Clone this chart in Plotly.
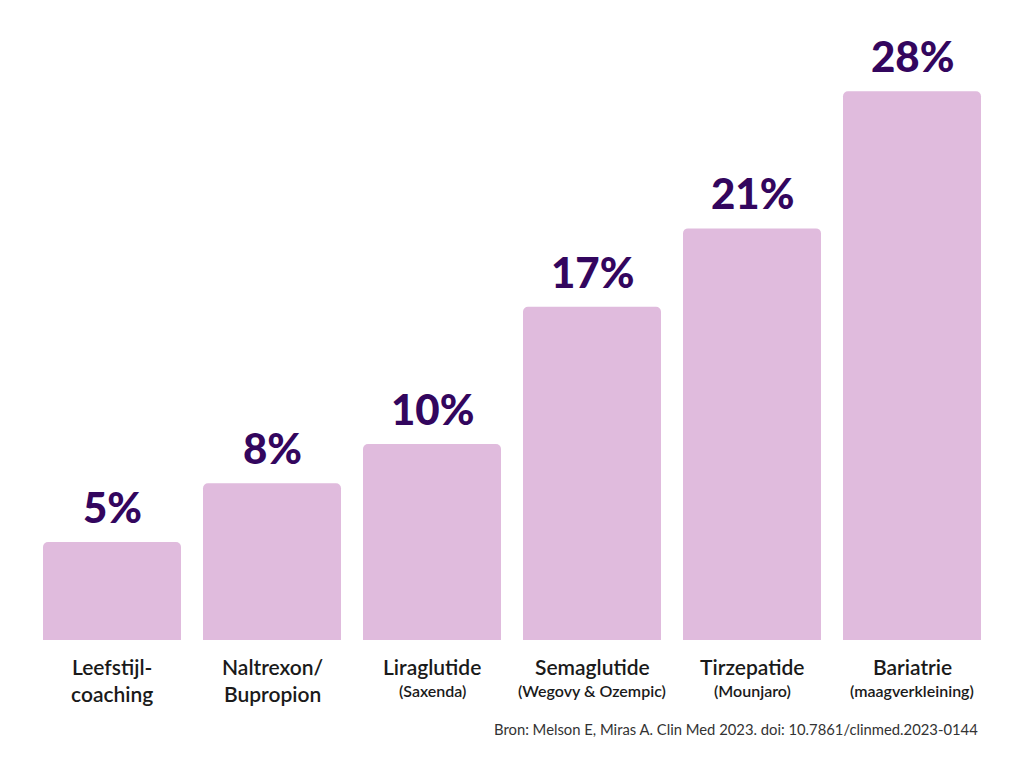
import plotly.graph_objects as go

main_labels = ["Leefstijl-<br>coaching", "Naltrexon/<br>Bupropion", "Liraglutide",
               "Semaglutide", "Tirzepatide", "Bariatrie"]
sub_labels = ["", "", "(Saxenda)", "(Wegovy & Ozempic)", "(Mounjaro)", "(maagverkleining)"]
values = [5, 8, 10, 17, 21, 28]
source = "Bron: Melson E, Miras A. Clin Med 2023. doi: 10.7861/clinmed.2023-0144"

bar_color = "#E0BBDD"
label_color = "#33065E"
text_color = "#1a1a1a"

xs = list(range(len(values)))

fig = go.Figure(go.Bar(
    x=xs, y=values,
    marker=dict(color=bar_color, line=dict(width=0)),
    hoverinfo="skip",
))

annotations = []
for i, v in enumerate(values):
    annotations.append(dict(x=i, y=v, xref="x", yref="y", text=f"{v}%", showarrow=False,
                            xanchor="center", yanchor="bottom", yshift=8,
                            font=dict(family="Lato", size=42, color=label_color, weight=900)))
for i, (m, s) in enumerate(zip(main_labels, sub_labels)):
    annotations.append(dict(x=i, y=0, xref="x", yref="y", text=m, showarrow=False,
                            xanchor="center", yanchor="top", yshift=-12,
                            font=dict(family="Lato", size=21, color=text_color, weight=600)))
    if s:
        annotations.append(dict(x=i, y=0, xref="x", yref="y", text=s, showarrow=False,
                                xanchor="center", yanchor="top", yshift=-39,
                                font=dict(family="Lato", size=16, color=text_color, weight=600)))
annotations.append(dict(text=source, xref="paper", yref="paper", x=0.9875, y=-0.152,
                        xanchor="right", yanchor="middle", showarrow=False,
                        font=dict(family="Lato", size=14.8, color="#333333")))

fig.update_layout(
    width=1024, height=759,
    margin=dict(l=32, r=32, t=52, b=119),
    paper_bgcolor="white", plot_bgcolor="white",
    bargap=0.1375, barcornerradius=5,
    showlegend=False,
    xaxis=dict(range=[-0.5, 5.5], visible=False),
    yaxis=dict(range=[0, 30], visible=False),
    annotations=annotations,
)

fig.write_html("out.html")
